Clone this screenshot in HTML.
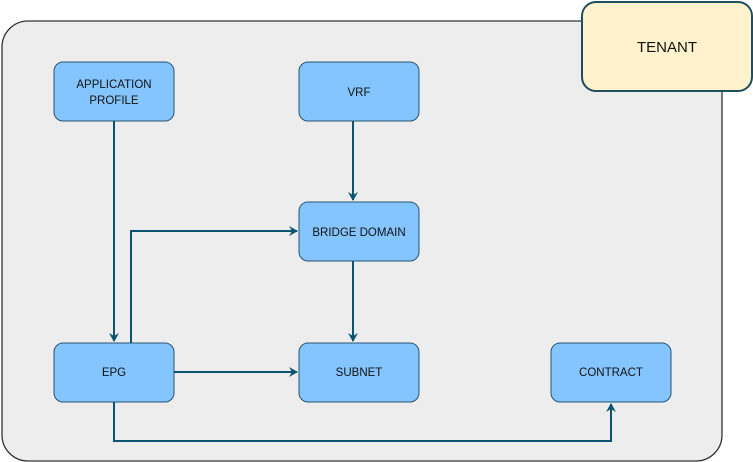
<!DOCTYPE html>
<html><head><style>
body{margin:0;width:753px;height:462px;background:#fff;overflow:hidden}
svg{display:block}
text{font-family:"Liberation Sans",Arial,sans-serif;font-size:11.5px;fill:#111}
</style></head><body>
<svg width="753" height="462" viewBox="0 0 753 462">
<defs><marker id="a" markerWidth="10" markerHeight="10" refX="8" refY="5" orient="auto" markerUnits="userSpaceOnUse"><path d="M0,0 L9,5 L0,10 L3,5 Z" fill="#0b5470"/></marker></defs>
<rect x="2" y="21" width="720" height="440" rx="26" fill="#ededed" stroke="#333" stroke-width="1.3"/>
<rect x="582" y="2" width="170" height="89" rx="14" fill="#fff2cc" stroke="#1f4e5f" stroke-width="2"/>
<text x="667" y="52" text-anchor="middle" style="font-size:15px">TENANT</text>
<g fill="#85c5ff" stroke="#265470" stroke-width="1">
<rect x="54" y="62" width="120" height="59" rx="9"/>
<rect x="299" y="62" width="120" height="59" rx="9"/>
<rect x="299" y="202" width="120" height="59" rx="9"/>
<rect x="54" y="343" width="120" height="59" rx="9"/>
<rect x="299" y="343" width="120" height="59" rx="9"/>
<rect x="551" y="343" width="120" height="59" rx="9"/>
</g>
<g text-anchor="middle">
<text x="114" y="88">APPLICATION</text><text x="114" y="104">PROFILE</text>
<text x="359" y="96">VRF</text>
<text x="359" y="236">BRIDGE DOMAIN</text>
<text x="114" y="376">EPG</text>
<text x="359" y="376">SUBNET</text>
<text x="611" y="376">CONTRACT</text>
</g>
<g fill="none" stroke="#0b5470" stroke-width="2">
<path d="M114,121 V341" marker-end="url(#a)"/>
<path d="M353,121 V200" marker-end="url(#a)"/>
<path d="M353,261 V341" marker-end="url(#a)"/>
<path d="M131,343 V231 H297" marker-end="url(#a)"/>
<path d="M174,372 H297" marker-end="url(#a)"/>
<path d="M114,402 V441 H611 V404" marker-end="url(#a)"/>
</g>
</svg>
</body></html>
